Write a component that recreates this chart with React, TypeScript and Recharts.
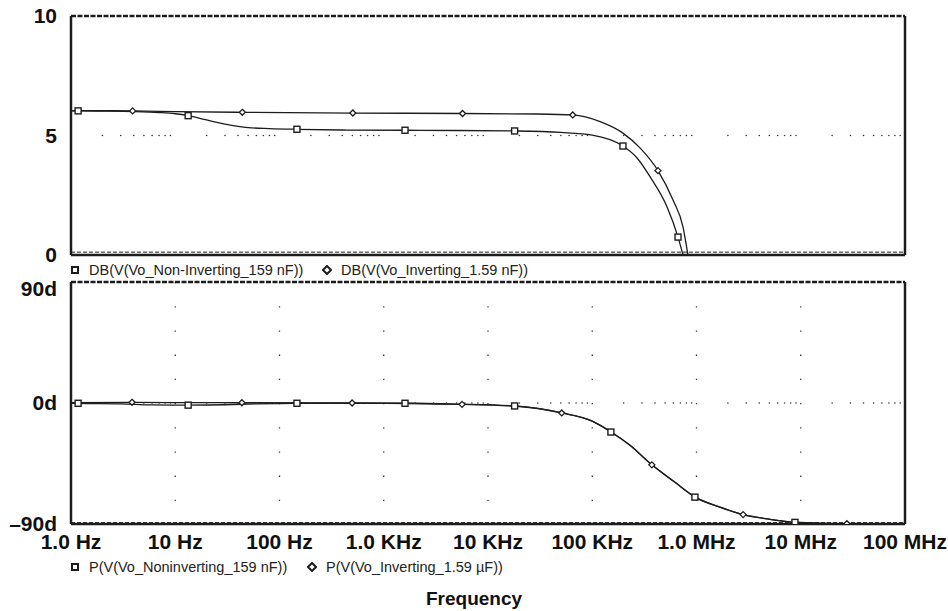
import React from 'react'
import { LineChart, Line, XAxis, YAxis, CartesianGrid, ReferenceDot, ReferenceLine } from 'recharts'

// decade ticks and labels shared by both panels
const decadeTicks = [1, 10, 100, 1e3, 1e4, 1e5, 1e6, 1e7, 1e8]
const decadeLabels = ['1.0 Hz', '10 Hz', '100 Hz', '1.0 KHz', '10 KHz', '100 KHz', '1.0 MHz', '10 MHz', '100 MHz']
const minorSteps = [2, 3, 4, 5, 6, 7, 8, 9]

// top panel: gain in dB
const dbNonInvFreq = [1, 1.17, 2, 4, 7, 10, 13.3, 20, 30, 50, 80, 147, 400, 1600, 5000, 18000, 50000, 100000, 197000, 269000, 358000, 521000, 665000, 743000, 1000000, 2000000]
const dbNonInvVal = [6.03, 6.03, 6.02, 6.0, 5.96, 5.91, 5.83, 5.65, 5.48, 5.33, 5.29, 5.26, 5.23, 5.22, 5.21, 5.19, 5.13, 5.02, 4.56, 4.06, 3.28, 2.02, 0.75, 0.0, -2.0, -8]
const dbNonInvMarks = [1.17, 13.3, 147, 1600, 18000, 197000, 665000]

const dbInvFreq = [1, 3.9, 10, 44, 505, 5700, 30000, 65000, 119000, 197000, 287000, 427000, 595000, 743000, 828000, 1000000, 2000000]
const dbInvVal = [6.04, 6.03, 6.0, 5.97, 5.94, 5.92, 5.9, 5.86, 5.58, 5.1, 4.48, 3.53, 2.3, 1.17, 0.0, -2.0, -8]
const dbInvMarks = [3.9, 44, 505, 5700, 65000, 427000]

// bottom panel: phase in degrees
const phNonInvFreq = [1, 1.17, 3, 6, 13.3, 30, 60, 147, 1600, 5000, 18000, 51000, 100000, 151000, 230000, 373000, 622000, 966000, 1680000, 2800000, 5070000, 8800000, 30000000, 100000000]
const phNonInvVal = [0, -0.2, -0.6, -1.4, -1.6, -1.3, -0.6, -0.2, -0.2, -0.8, -2.2, -7.4, -13.5, -21.6, -31.5, -46, -59, -70, -77.5, -83, -86.5, -88.8, -90, -90]
const phNonInvMarks = [1.17, 13.3, 147, 1600, 18000, 151000, 966000, 8800000]

const phInvFreq = [1, 3.85, 10, 43.6, 497, 5640, 20000, 51000, 100000, 151000, 230000, 373000, 622000, 966000, 1680000, 2800000, 5070000, 8800000, 27700000, 100000000]
const phInvVal = [0.2, 0.5, 0.3, 0.2, 0, -1, -2.6, -7.4, -13.5, -21.4, -31.5, -46, -59, -69.8, -77.5, -83, -86.5, -88.6, -89.8, -90]
const phInvMarks = [3.85, 43.6, 497, 5640, 51000, 373000, 2800000, 27700000]

const ink = '#1c1c1c'
const font = '"Liberation Sans", Arial, sans-serif'

function build(freq: number[], val: number[], marks: number[]) {
  return freq.map((f, i) => ({ f, v: val[i], mark: marks.includes(f) }))
}

const minorTicks = decadeTicks.slice(0, -1).flatMap((d) => minorSteps.map((m) => d * m))

const squareDot = (props: any) => {
  const { cx, cy, payload, index } = props
  if (!payload || !payload.mark || cx == null) return <g key={`s${index}`} />
  return <rect key={`s${index}`} x={cx - 3} y={cy - 3} width={6} height={6} fill="#fff" stroke={ink} strokeWidth={1.4} />
}

const diamondDot = (props: any) => {
  const { cx, cy, payload, index } = props
  if (!payload || !payload.mark || cx == null) return <g key={`d${index}`} />
  return (
    <polygon
      key={`d${index}`}
      points={`${cx},${cy - 3} ${cx + 3},${cy} ${cx},${cy + 3} ${cx - 3},${cy}`}
      fill="#fff"
      stroke={ink}
      strokeWidth={1.3}
    />
  )
}

const tickStyle = { fontSize: 21, fontWeight: 700, fill: '#111', fontFamily: font }

function LegendItem({ shape, text, left, top }: { shape: 'square' | 'diamond'; text: string; left: number; top: number }) {
  return (
    <div style={{ position: 'absolute', left, top, display: 'flex', alignItems: 'center', fontSize: 14.5, color: '#222', fontFamily: font, whiteSpace: 'nowrap' }}>
      <svg width={10} height={10} style={{ marginRight: 9 }}>
        {shape === 'square' ? (
          <rect x={2} y={2} width={6} height={6} fill="#fff" stroke={ink} strokeWidth={2} />
        ) : (
          <polygon points="5,1 9,5 5,9 1,5" fill="#fff" stroke={ink} strokeWidth={2} />
        )}
      </svg>
      {text}
    </div>
  )
}

export default function App() {
  const dbNonInv = build(dbNonInvFreq, dbNonInvVal, dbNonInvMarks)
  const dbInv = build(dbInvFreq, dbInvVal, dbInvMarks)
  const phNonInv = build(phNonInvFreq, phNonInvVal, phNonInvMarks)
  const phInv = build(phInvFreq, phInvVal, phInvMarks)

  const border = { stroke: ink, strokeWidth: 2.5 }

  return (
    <div style={{ position: 'absolute', left: 0, top: 0, width: 948, height: 611, background: '#fff', fontFamily: font, overflow: 'hidden' }}>
      <div style={{ position: 'absolute', left: 0, top: 0 }}>
        <LineChart width={948} height={270} margin={{ top: 16, right: 43, bottom: 15, left: 0 }}>
          <CartesianGrid horizontal={false} stroke="#333" strokeWidth={1.3} strokeDasharray="1.3 22.6" />
          <XAxis dataKey="f" type="number" scale="log" domain={[1, 1e8]} ticks={decadeTicks} allowDataOverflow tick={false} tickLine={false} height={0} axisLine={false} />
          <YAxis
            type="number"
            domain={[0, 10]}
            ticks={[0, 5, 10]}
            allowDataOverflow
            width={71}
            tickLine={false}
            tickSize={0}
            tickMargin={14}
            tick={tickStyle}
            axisLine={false}
          />
          {minorTicks.map((f) => (
            <ReferenceDot key={`m${f}`} x={f} y={5} r={0.8} fill="#333" stroke="none" />
          ))}
          <ReferenceLine y={10} {...border} strokeDasharray="5 1.5" />
          <ReferenceLine y={0.12} stroke={ink} strokeWidth={1} strokeDasharray="4 2" />
          <ReferenceLine y={0} {...border} />
          <ReferenceLine x={1} {...border} />
          <ReferenceLine x={1e8} {...border} />
          <Line data={dbNonInv} dataKey="v" type="monotone" stroke={ink} strokeWidth={1.3} dot={squareDot} activeDot={false} isAnimationActive={false} />
          <Line data={dbInv} dataKey="v" type="monotone" stroke={ink} strokeWidth={1.3} dot={diamondDot} activeDot={false} isAnimationActive={false} />
        </LineChart>
      </div>

      <LegendItem shape="square" text="DB(V(Vo_Non-Inverting_159 nF))" left={70} top={262} />
      <LegendItem shape="diamond" text="DB(V(Vo_Inverting_1.59 nF))" left={322} top={262} />

      <div style={{ position: 'absolute', left: 0, top: 276 }}>
        <LineChart width={948} height={290} margin={{ top: 6, right: 43, bottom: 0, left: 0 }}>
          <CartesianGrid horizontal={false} stroke="#333" strokeWidth={1.3} strokeDasharray="1.3 22.9" />
          <XAxis
            dataKey="f"
            type="number"
            scale="log"
            domain={[1, 1e8]}
            ticks={decadeTicks}
            allowDataOverflow
            tickFormatter={(v: number) => decadeLabels[decadeTicks.indexOf(v)] ?? ''}
            tick={tickStyle}
            tickLine={false}
            tickSize={0}
            tickMargin={10}
            height={42}
            interval={0}
            axisLine={false}
          />
          <YAxis
            type="number"
            domain={[-90, 90]}
            ticks={[-90, 0, 90]}
            allowDataOverflow
            width={71}
            tickLine={false}
            tickSize={0}
            tickMargin={14}
            tick={tickStyle}
            tickFormatter={(v: number) => (v < 0 ? '\u2013' + Math.abs(v) + 'd' : v + 'd')}
            axisLine={false}
          />
          {minorTicks.map((f) => (
            <ReferenceDot key={`p${f}`} x={f} y={0} r={0.8} fill="#333" stroke="none" />
          ))}
          <ReferenceLine y={90} {...border} strokeDasharray="5 1.5" />
          <ReferenceLine y={-89} stroke={ink} strokeWidth={1} strokeDasharray="4 2" />
          <ReferenceLine y={-90} {...border} />
          <ReferenceLine x={1} {...border} />
          <ReferenceLine x={1e8} {...border} />
          <Line data={phNonInv} dataKey="v" type="monotone" stroke={ink} strokeWidth={1.3} dot={squareDot} activeDot={false} isAnimationActive={false} />
          <Line data={phInv} dataKey="v" type="monotone" stroke={ink} strokeWidth={1.3} dot={diamondDot} activeDot={false} isAnimationActive={false} />
        </LineChart>
      </div>

      <LegendItem shape="square" text="P(V(Vo_Noninverting_159 nF))" left={70} top={559} />
      <LegendItem shape="diamond" text={'P(V(Vo_Inverting_1.59 \u00b5F))'} left={307} top={559} />

      <div style={{ position: 'absolute', left: 0, width: 948, top: 589, lineHeight: '20px', textAlign: 'center', fontSize: 19, fontWeight: 700, color: '#111' }}>
        Frequency
      </div>
    </div>
  )
}
